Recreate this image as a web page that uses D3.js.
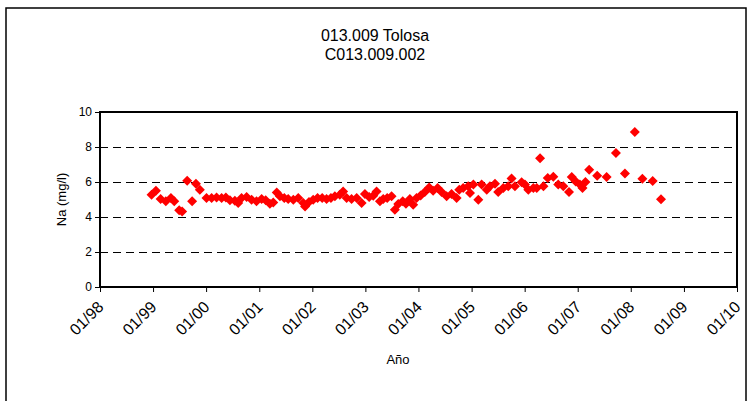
<!DOCTYPE html>
<html>
<head>
<meta charset="utf-8">
<script src="https://cdn.jsdelivr.net/npm/d3@7"></script>
<style>
  body { margin: 0; background: #fff; }
  text { font-family: "Liberation Sans", Arial, sans-serif; fill: #000; }
</style>
</head>
<body>
<svg width="750" height="401"></svg>
<script>
// sample dates and Na values (mg/l)
var dates = [
    "1998-12-22", "1999-01-21", "1999-02-22", "1999-03-30", "1999-05-04", "1999-05-27",
    "1999-06-30", "1999-07-20", "1999-08-24", "1999-09-27", "1999-10-23", "1999-11-19",
    "2000-01-04", "2000-02-08", "2000-03-13", "2000-04-17", "2000-05-16", "2000-06-13",
    "2000-07-17", "2000-08-09", "2000-09-01", "2000-10-06", "2000-11-09", "2000-12-13",
    "2001-01-17", "2001-02-14", "2001-03-15", "2001-04-07", "2001-05-01", "2001-05-23",
    "2001-06-22", "2001-07-19", "2001-08-23", "2001-09-26", "2001-10-31", "2001-11-12",
    "2001-12-09", "2002-01-07", "2002-02-06", "2002-03-10", "2002-04-09", "2002-05-09",
    "2002-06-05", "2002-07-09", "2002-08-01", "2002-08-25", "2002-09-28", "2002-11-02",
    "2002-12-06", "2002-12-29", "2003-01-27", "2003-02-24", "2003-03-19", "2003-04-11",
    "2003-05-04", "2003-05-31", "2003-06-30", "2003-07-23", "2003-08-15", "2003-09-15",
    "2003-10-07", "2003-11-03", "2003-11-26", "2003-12-19", "2004-01-16", "2004-02-14",
    "2004-03-15", "2004-04-11", "2004-05-12", "2004-06-08", "2004-07-13", "2004-08-16",
    "2004-09-20", "2004-10-08", "2004-11-04", "2004-12-09", "2004-12-21", "2005-01-13",
    "2005-02-16", "2005-03-11", "2005-04-15", "2005-05-07", "2005-06-11", "2005-07-03",
    "2005-08-07", "2005-09-10", "2005-10-03", "2005-10-26", "2005-12-11", "2006-01-03",
    "2006-01-26", "2006-03-02", "2006-03-25", "2006-04-17", "2006-05-10", "2006-06-09",
    "2006-07-17", "2006-08-20", "2006-09-24", "2006-11-02", "2006-11-21", "2006-12-18",
    "2007-01-16", "2007-02-03", "2007-02-23", "2007-03-21", "2007-05-15", "2007-07-19",
    "2007-09-21", "2007-11-22", "2008-01-29", "2008-03-21", "2008-05-31", "2008-07-27"
];
var na = [
    5.27, 5.5, 5.03, 4.9, 5.08, 4.9,
    4.38, 4.32, 6.07, 4.9, 5.9, 5.56,
    5.08, 5.08, 5.12, 5.08, 5.12, 4.95,
    4.93, 4.8, 5.08, 5.14, 4.99, 4.9,
    5.03, 4.95, 4.76, 4.83, 5.4, 5.18,
    5.08, 5.03, 4.99, 5.08, 4.8, 4.6,
    4.86, 4.99, 5.08, 5.08, 5.03, 5.08,
    5.18, 5.27, 5.45, 5.08, 5.03, 5.08,
    4.8, 5.31, 5.14, 5.22, 5.46, 4.9,
    5.03, 5.08, 5.18, 4.42, 4.74, 4.9,
    4.76, 5.03, 4.7, 5.08, 5.23, 5.43,
    5.69, 5.5, 5.66, 5.43, 5.18, 5.31,
    5.08, 5.56, 5.66, 5.75, 5.37, 5.85,
    4.99, 5.85, 5.56, 5.75, 5.9, 5.43,
    5.66, 5.75, 6.2, 5.75, 5.98, 5.85,
    5.56, 5.66, 5.66, 7.35, 5.75, 6.23,
    6.3, 5.85, 5.75, 5.43, 6.29, 6.03,
    5.85, 5.66, 6.0, 6.7, 6.36, 6.29,
    7.66, 6.49, 8.86, 6.18, 6.05, 5.01
];
var yTicks = [0, 2, 4, 6, 8, 10];
var xTickYears = [1998, 1999, 2000, 2001, 2002, 2003, 2004, 2005, 2006, 2007, 2008, 2009, 2010];

function main() {
    var svg = d3.select("svg");
    var left = 100, right = 737, top = 112, bottom = 287;

    var parse = d3.timeParse("%Y-%m-%d");
    var data = dates.map(function(d, i) { return { date: parse(d), value: na[i] }; });
    var xTicks = xTickYears.map(function(y) { return new Date(y, 0, 1); });

    var x = d3.scaleTime()
        .domain([xTicks[0], xTicks[xTicks.length - 1]])
        .range([left, right]);
    var y = d3.scaleLinear().domain([0, 10]).range([bottom, top]);

    // outer chart frame
    svg.append("rect")
        .attr("x", 6).attr("y", 8)
        .attr("width", 740).attr("height", 420)
        .attr("fill", "none").attr("stroke", "#000").attr("stroke-width", 1.5);

    // titles
    svg.append("text").attr("x", 375).attr("y", 41)
        .attr("text-anchor", "middle").attr("font-size", "16px")
        .text("013.009 Tolosa");
    svg.append("text").attr("x", 375).attr("y", 60)
        .attr("text-anchor", "middle").attr("font-size", "16px")
        .text("C013.009.002");

    // dashed gridlines
    svg.append("g").selectAll("line")
        .data(yTicks.filter(function(d) { return d > 0 && d < 10; }))
        .enter().append("line")
        .attr("x1", left).attr("x2", right)
        .attr("y1", function(d) { return Math.round(y(d)) + 0.5; })
        .attr("y2", function(d) { return Math.round(y(d)) + 0.5; })
        .attr("stroke", "#000").attr("stroke-width", 1)
        .attr("stroke-dasharray", "8,5");

    // plot border
    svg.append("rect")
        .attr("x", left).attr("y", top)
        .attr("width", right - left).attr("height", bottom - top)
        .attr("fill", "none").attr("stroke", "#000").attr("stroke-width", 2);

    // y axis
    var yAxis = svg.append("g")
        .attr("transform", "translate(" + left + ",0)")
        .call(d3.axisLeft(y).tickValues(yTicks).tickSize(5).tickPadding(3));
    yAxis.select(".domain").remove();
    yAxis.selectAll("line").attr("stroke", "#000");
    yAxis.selectAll("text").attr("font-size", "12px")
        .attr("font-family", "Liberation Sans, Arial, sans-serif");

    // x axis
    var xAxis = svg.append("g")
        .attr("transform", "translate(0," + bottom + ")")
        .call(d3.axisBottom(x).tickValues(xTicks).tickSize(5)
            .tickFormat(d3.timeFormat("%m/%y")));
    xAxis.select(".domain").remove();
    xAxis.selectAll("line").attr("stroke", "#000");
    xAxis.selectAll("text")
        .attr("font-size", "16px")
        .attr("font-family", "Liberation Sans, Arial, sans-serif")
        .attr("text-anchor", "end")
        .attr("dx", 0).attr("dy", 0)
        .attr("transform", "translate(4,21) rotate(-45)")
        .attr("y", 0);

    // markers
    var diamond = d3.symbol().type(d3.symbolSquare).size(50);
    svg.append("g").selectAll("path")
        .data(data)
        .enter().append("path")
        .attr("d", diamond)
        .attr("transform", function(d) {
            return "translate(" + x(d.date) + "," + y(d.value) + ") rotate(45)";
        })
        .attr("fill", "#ff0000");

    // axis titles
    svg.append("text")
        .attr("transform", "translate(66," + ((top + bottom) / 2) + ") rotate(-90)")
        .attr("text-anchor", "middle").attr("font-size", "13px")
        .text("Na (mg/l)");
    svg.append("text").attr("x", 398).attr("y", 364)
        .attr("text-anchor", "middle").attr("font-size", "13px")
        .text("Año");
}
main();
</script>
</body>
</html>
